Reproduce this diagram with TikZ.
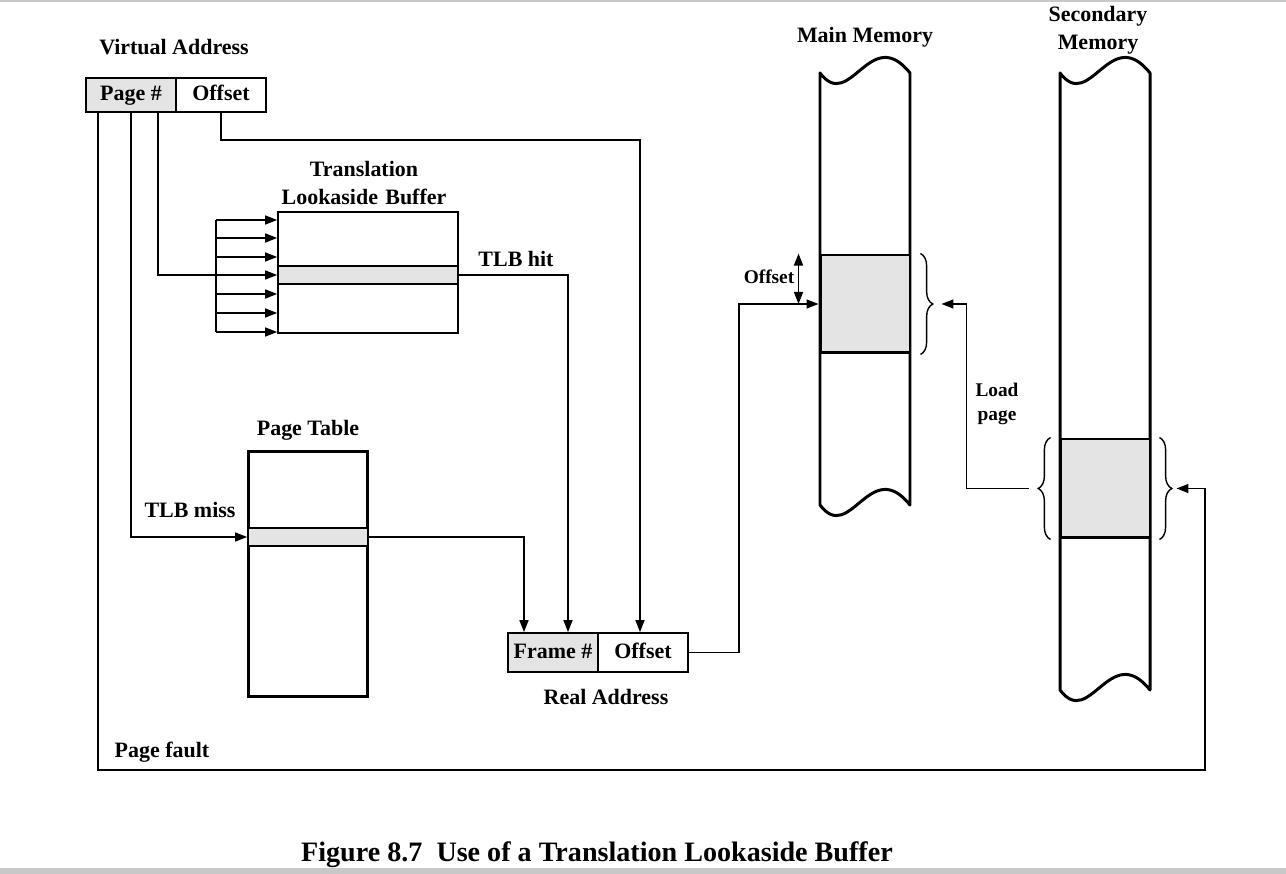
\documentclass[tikz,border=0pt]{standalone}
\usepackage{fontspec}
\setmainfont{Liberation Serif}
\usepackage{tikz}
\usetikzlibrary{arrows.meta,calc,decorations.pathreplacing}
\definecolor{shade}{RGB}{228,228,228}
\definecolor{rule}{RGB}{200,200,200}
\tikzset{
  box/.style={draw,line width=1pt,align=center,font=\fontsize{12.5}{15}\bfseries\selectfont,inner sep=0pt,text height=9pt,text depth=2.5pt},
  row/.style={draw,fill=shade,line width=1pt,inner sep=0pt},
  mem/.style={line width=1.7pt,line join=round},
  blk/.style={draw,fill=shade,line width=1.7pt,inner sep=0pt,minimum width=1.8cm},
  arr/.style={-{Triangle[length=2.4mm,width=1.8mm]},line width=0.9pt},
  brc/.style={decorate,decoration={brace,amplitude=7pt},line width=0.8pt}
}

\begin{document}
\begin{tikzpicture}[x=0.02cm,y=-0.02cm,
  cell/.style={box,minimum width=1.8cm,minimum height=0.68cm},
  lab/.style={font=\fontsize{12.5}{15}\bfseries\selectfont,align=center,inner sep=0pt},
  slab/.style={font=\fontsize{11}{14}\bfseries\selectfont,align=center,inner sep=0pt}]
\newcommand{\memcol}[3]{\draw[mem] (#1,#2) -- (#1,#3) .. controls +(30,40) and +(-40,-50) .. (#1+90,#3) -- (#1+90,#2) .. controls +(-40,-50) and +(30,40) .. (#1,#2) -- cycle;}
\useasboundingbox (0,0) rectangle (1286,874);
\draw[rule,line width=1.5pt] (0,1) -- (1286,1);
\fill[rule] (0,868) rectangle (1286,874);

\node[lab] (valabel) at (174,47) {Virtual Address};
\node[cell,fill=shade] (vpage) at (131,95) {Page \#};
\node[cell] (voff) at (221,95) {Offset};

\node[lab,text width=4cm] (tlblabel) at (364,183) {Translation\\[1pt]Lookaside Buffer};
\node[box,minimum width=3.6cm,minimum height=2.42cm] (tlb) at (368,272.5) {};
\node[row,minimum width=3.6cm,minimum height=0.36cm] (tlbrow) at (368,275) {};
\foreach \y [count=\i] in {220,238,257,294,313,332}{
  \coordinate (in\i) at (216,\y);
  \draw[arr] (in\i) -- (in\i -| tlb.west);
}
\draw[line width=0.9pt] (in1) -- (in6);
\node[lab] (hitlabel) at (516,259) {TLB hit};

\node[lab] (ptlabel) at (308,430) {Page Table};
\node[box,line width=1.7pt,minimum width=2.4cm,minimum height=4.92cm] (ptab) at (308,574) {};
\node[row,minimum width=2.4cm,minimum height=0.36cm] (ptrow) at (308,537) {};
\node[lab] (misslabel) at (190,510) {TLB miss};

\node[cell,fill=shade,minimum height=0.78cm] (rframe) at (553,652.5) {Frame \#};
\node[cell,minimum height=0.78cm] (roff) at (643,652.5) {Offset};
\node[lab] (ralabel) at (606,697) {Real Address};

\node[lab] (mmlabel) at (865,37) {Main Memory};
\memcol{820}{73}{505}
\node[blk,minimum height=1.96cm] (mblock) at (865,304) {};
\draw[brc] (mblock.north east) ++(9,0) coordinate (mb1) -- (mblock.south east -| mb1);

\node[lab,text width=3cm] (smlabel) at (1098,30) {Secondary\\[1pt]Memory};
\memcol{1060}{73}{690}
\node[blk,minimum height=1.98cm] (sblock) at (1105,488.5) {};
\draw[brc] (sblock.south west) ++(-8,0) coordinate (sb1) -- (sblock.north west -| sb1);
\draw[brc] (sblock.north east) ++(8,0) coordinate (sb2) -- (sblock.south east -| sb2);
\node[slab] (loadlabel) at (997,404) {Load\\page};
\node[slab] (offlabel) at (769,277) {Offset};
\node[lab] (pflabel) at (162,752) {Page fault};

\coordinate (obend) at (640,140);
\coordinate (pfbend) at (1205,770);
\coordinate (mrtip) at ($(mblock.east)+(30,0)$);
\coordinate (sltip) at ($(sblock.west)+(-30,0)$);
\coordinate (srtip) at ($(sblock.east)+(25,0)$);
\coordinate (oa) at ($(mblock.north west)+(-20,0)$);
\coordinate (ob) at ($(mblock.west)+(-20,0)$);

\draw[arr] ($(vpage.south west)+(73,0)$) |- (tlbrow.west);
\draw[arr] ($(vpage.south west)+(46,0)$) |- (ptrow.west);
\draw[arr] ($(vpage.south west)+(13,0)$) |- (pfbend) |- (srtip);
\draw[arr] (voff.south) |- (obend) -- (obend |- roff.north);
\draw[arr] (tlbrow.east) -| ($(rframe.north)+(15,0)$);
\draw[arr] (ptrow.east) -| ($(rframe.north)+(-29,0)$);
\draw[arr] (roff.east) -- ++(50,0) |- (mblock.west);
\draw[{Triangle[length=2.4mm,width=1.8mm]}-{Triangle[length=2.4mm,width=1.8mm]},line width=0.9pt] (oa) -- (ob);
\draw[arr] (sltip) -- ++(-62,0) |- (mrtip);

\node[font=\fontsize{16}{19}\bfseries\selectfont] (caption) at (597,855) {Figure 8.7\ \ Use of a Translation Lookaside Buffer};
\end{tikzpicture}
\end{document}
